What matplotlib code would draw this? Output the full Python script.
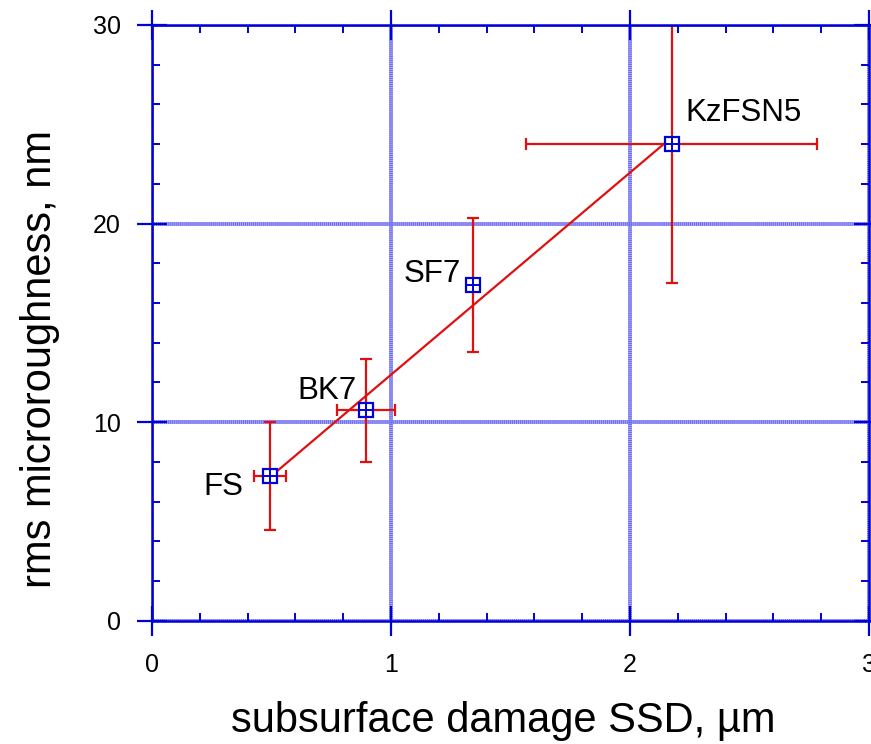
import numpy as np
import matplotlib
matplotlib.use("Agg")
import matplotlib.pyplot as plt
from matplotlib.ticker import MultipleLocator

plt.rcParams['font.family'] = ['Liberation Sans', 'DejaVu Sans']

# Glass samples: subsurface damage vs. rms microroughness
materials = ["FS", "BK7", "SF7", "KzFSN5"]
ssd_um = [0.494, 0.895, 1.344, 2.174]
ssd_err = [0.068, 0.122, 0.0, 0.61]
rms_nm = [7.29, 10.59, 16.9, 24.0]
rms_err = [2.73, 2.58, 3.37, 7.0]

# label anchors (data units) and alignment
label_x = [0.382, 0.856, 1.293, 2.230]
label_y = [6.33, 11.15, 17.07, 25.18]
label_ha = ["right", "right", "right", "left"]

RED = "#e01010"
BLUE = "#0000d8"
GRID_LIGHT = "#a8a8f8"
GRID_DARK = "#6c6cee"

fig = plt.figure(figsize=(8.71, 7.44), dpi=100)
ax = fig.add_axes([152 / 871, 123.3 / 744, 717 / 871, 595.7 / 744])

ax.set_xlim(0, 3)
ax.set_ylim(0, 30)
ax.xaxis.set_major_locator(MultipleLocator(1))
ax.xaxis.set_minor_locator(MultipleLocator(0.2))
ax.yaxis.set_major_locator(MultipleLocator(10))
ax.yaxis.set_minor_locator(MultipleLocator(2))

# textured major grid: light base with a fine darker dot pattern on top
for gx in ax.get_xticks():
    ax.axvline(gx, color=GRID_LIGHT, linewidth=2.8, zorder=0.5)
    ax.axvline(gx, color=GRID_DARK, linewidth=2.8, linestyle=(0, (0.26, 0.26)),
               zorder=0.6)
for gy in ax.get_yticks():
    ax.axhline(gy, color=GRID_LIGHT, linewidth=2.8, zorder=0.5)
    ax.axhline(gy, color=GRID_DARK, linewidth=2.8, linestyle=(0, (0.26, 0.26)),
               zorder=0.6)
ax.set_xlim(0, 3)
ax.set_ylim(0, 30)

for sp in ax.spines.values():
    sp.set_color(BLUE)
    sp.set_linewidth(1.8)
    sp.set_zorder(5)

ax.tick_params(which="major", direction="inout", length=21, width=1.6,
               color=BLUE, top=True, right=True, labelsize=18)
ax.tick_params(axis="x", which="major", pad=13)
ax.tick_params(axis="y", which="major", pad=12)
ax.tick_params(which="minor", direction="in", length=6, width=1.4,
               color=BLUE, top=True, right=True)

# least-squares line through the four samples
x = np.array(ssd_um)
y = np.array(rms_nm)
slope, intercept = np.polyfit(x, y, 1)
xf = np.array([x.min(), x.max()])
ax.plot(xf, slope * xf + intercept, color=RED, linewidth=1.6, zorder=3)

ax.errorbar(ssd_um, rms_nm, xerr=ssd_err, yerr=rms_err, fmt="none",
            ecolor=RED, elinewidth=1.6, capsize=4.3, capthick=1.6, zorder=3)

ax.plot(ssd_um, rms_nm, linestyle="none", marker="s", markersize=9.6,
        markerfacecolor="white", markeredgecolor=BLUE, markeredgewidth=1.6,
        zorder=6)
ax.plot(ssd_um, rms_nm, linestyle="none", marker="+", markersize=9.6,
        markeredgecolor=BLUE, markeredgewidth=1.4, zorder=7)

for name, lx, ly, ha in zip(materials, label_x, label_y, label_ha):
    ax.text(lx, ly, name, ha=ha, va="baseline", fontsize=22.5, color="black",
            zorder=8)

ax.set_xlabel("subsurface damage SSD, µm", fontsize=30)
ax.set_ylabel("rms microroughness, nm", fontsize=30)
ax.xaxis.set_label_coords(0.490, -0.135)
ax.yaxis.set_label_coords(-0.128, 0.439)

fig.savefig("out.png", dpi=100)
